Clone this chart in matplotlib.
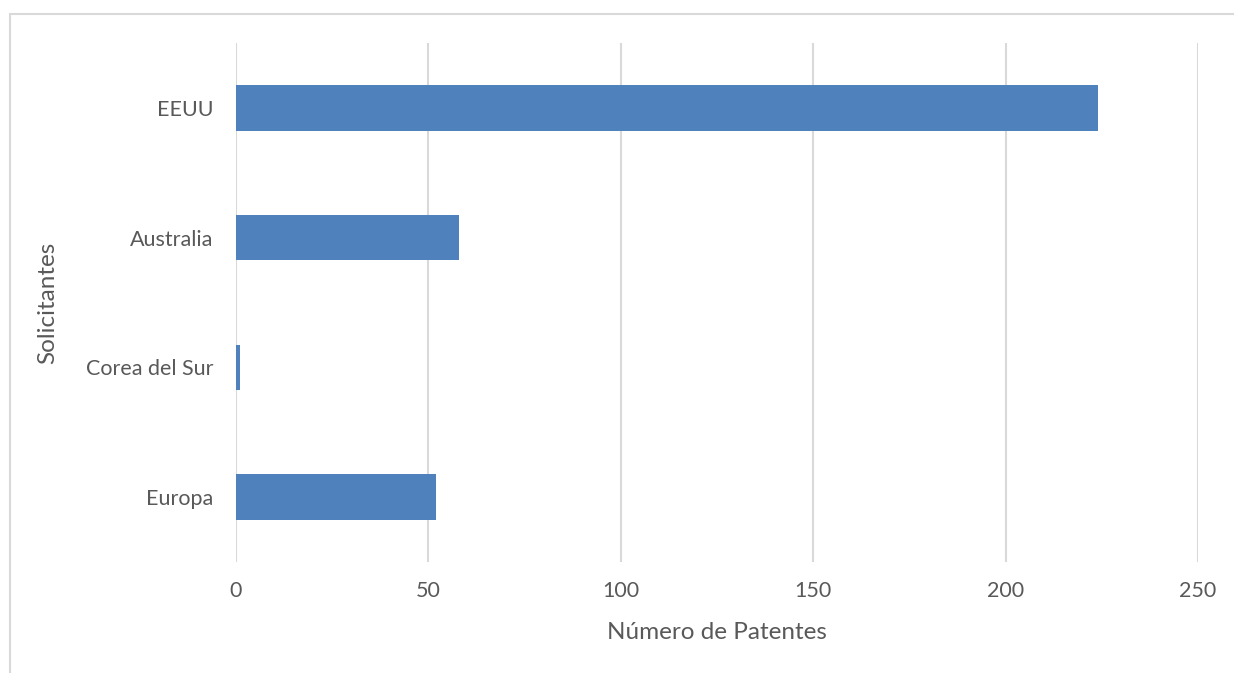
import matplotlib.pyplot as plt
from matplotlib.patches import Rectangle

# Número de patentes por país solicitante
paises = ['EEUU', 'Australia', 'Corea del Sur', 'Europa']
patentes = [224, 58, 1, 52]

plt.rcParams['font.family'] = ['Lato', 'DejaVu Sans']
gris = '#595959'

fig = plt.figure(figsize=(12.34, 6.73), dpi=100)
W, H = 1234, 673
ax = fig.add_axes([236 / W, 1 - 562 / H, (1198 - 236) / W, (562 - 43) / H])

pos = list(range(len(paises)))[::-1]
ax.barh(pos, patentes, height=0.35, color='#4f81bd', zorder=3)

ax.set_xlim(0, 250)
ax.set_ylim(-0.5, len(paises) - 0.5)
ax.set_xticks(range(0, 251, 50))
ax.set_yticks(pos)
ax.set_yticklabels(paises)
ax.tick_params(axis='both', length=0, labelsize=15.5, colors=gris)
ax.tick_params(axis='x', pad=14)
ax.tick_params(axis='y', pad=16.5)
ax.grid(axis='x', color='#d9d9d9', linewidth=1.5, zorder=0)
for s in ax.spines.values():
    s.set_visible(False)

ax.set_xlabel('Número de Patentes', fontsize=17.5, color=gris, labelpad=15)
ax.set_ylabel('Solicitantes', fontsize=17.5, color=gris, labelpad=20)

# marco del área del gráfico
fig.patches.append(Rectangle((9.5 / W, -0.1), 1.2, 1 - 14 / H + 0.1,
                             transform=fig.transFigure, fill=False,
                             edgecolor='#d9d9d9', linewidth=1.5))

fig.savefig('out.png', dpi=100)
